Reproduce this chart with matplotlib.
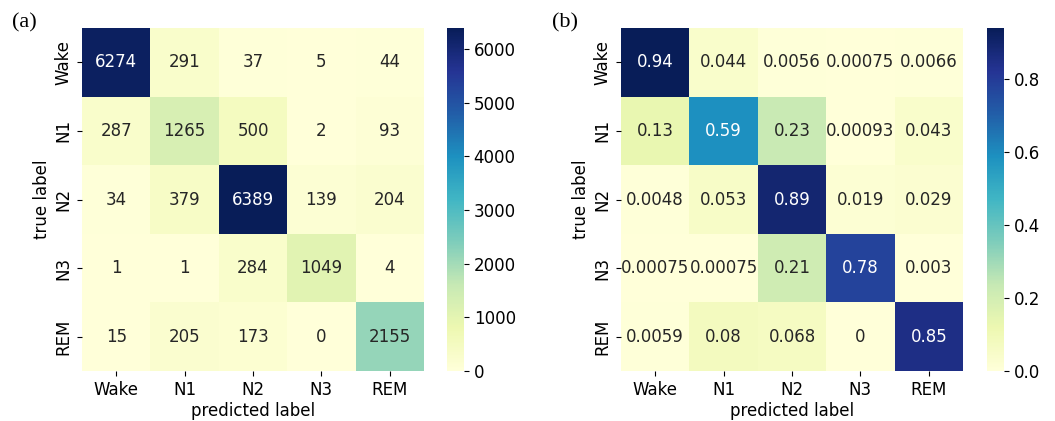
import numpy as np
import matplotlib
matplotlib.use("Agg")
import matplotlib.pyplot as plt
from matplotlib.colors import to_rgb

stages = ["Wake", "N1", "N2", "N3", "REM"]

counts = np.array([
    [6274, 291, 37, 5, 44],
    [287, 1265, 500, 2, 93],
    [34, 379, 6389, 139, 204],
    [1, 1, 284, 1049, 4],
    [15, 205, 173, 0, 2155],
])

ratios = np.array([
    [0.94, 0.044, 0.0056, 0.00075, 0.0066],
    [0.13, 0.59, 0.23, 0.00093, 0.043],
    [0.0048, 0.053, 0.89, 0.019, 0.029],
    [0.00075, 0.00075, 0.21, 0.78, 0.003],
    [0.0059, 0.08, 0.068, 0, 0.85],
])

W, H = 1055, 421
FS = 12


def box(x0, y0, x1, y1):
    # pixel box (top-left origin) -> figure fraction rect
    return [x0 / W, 1 - y1 / H, (x1 - x0) / W, (y1 - y0) / H]


def luminance(c):
    rgb = np.array(to_rgb(c))
    rgb = np.where(rgb <= .03928, rgb / 12.92, ((rgb + .055) / 1.055) ** 2.4)
    return rgb.dot([.2126, .7152, .0722])


def heatmap(ax, cax, data, fmt, ticks):
    cmap = plt.get_cmap("YlGnBu")
    vmin, vmax = data.min(), data.max()
    mesh = ax.pcolormesh(data, cmap=cmap, vmin=vmin, vmax=vmax)
    ax.set_xlim(0, data.shape[1])
    ax.set_ylim(data.shape[0], 0)
    for i in range(data.shape[0]):
        for j in range(data.shape[1]):
            v = data[i, j]
            c = cmap((v - vmin) / (vmax - vmin))
            tc = "#262626" if luminance(c) > .408 else "w"
            ax.text(j + .5, i + .5, format(v, fmt), ha="center", va="center",
                    color=tc, fontsize=FS)
    for s in ax.spines.values():
        s.set_visible(False)
    ax.set_xticks(np.arange(5) + .5)
    ax.set_xticklabels(stages, fontsize=FS)
    ax.set_yticks(np.arange(5) + .5)
    ax.set_yticklabels(stages, fontsize=FS, rotation=90, va="center")
    ax.tick_params(length=3.5, width=0.8)
    ax.set_xlabel("predicted label", fontsize=FS, labelpad=2)
    ax.set_ylabel("true label", fontsize=FS, labelpad=2)
    cb = plt.colorbar(mesh, cax=cax)
    cb.outline.set_visible(False)
    cb.set_ticks(ticks)
    cb.ax.tick_params(labelsize=FS, length=3.5, width=0.8)


fig = plt.figure(figsize=(W / 100, H / 100), dpi=100)

ax1 = fig.add_axes(box(82, 28, 424, 371))
cax1 = fig.add_axes(box(447, 28, 464, 371))
heatmap(ax1, cax1, counts, "d", [0, 1000, 2000, 3000, 4000, 5000, 6000])

ax2 = fig.add_axes(box(621, 28, 963, 371))
cax2 = fig.add_axes(box(987, 28, 1004, 371))
heatmap(ax2, cax2, ratios, ".2g", [0.0, 0.2, 0.4, 0.6, 0.8])
cax2.set_yticklabels(["0.0", "0.2", "0.4", "0.6", "0.8"])

fig.text(12 / W, 1 - 27 / H, "(a)", family="Liberation Serif", fontsize=16)
fig.text(552 / W, 1 - 27 / H, "(b)", family="Liberation Serif", fontsize=16)

fig.savefig("out.png", dpi=100)
